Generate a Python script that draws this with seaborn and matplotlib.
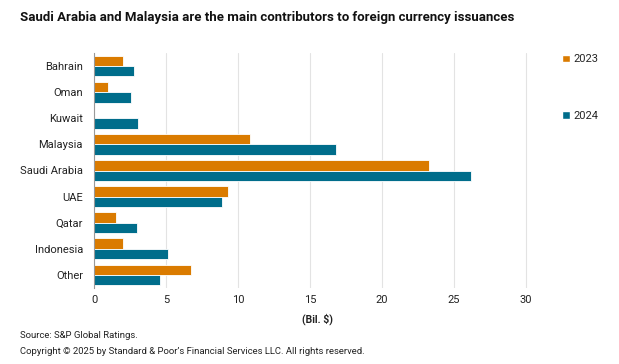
import matplotlib
matplotlib.use("Agg")
import matplotlib.pyplot as plt
import seaborn as sns
import pandas as pd
from matplotlib.patches import Patch

countries = ["Bahrain", "Oman", "Kuwait", "Malaysia", "Saudi Arabia", "UAE", "Qatar", "Indonesia", "Other"]
years = ["2023", "2024"]
values_2023 = [2.0, 1.0, 0.0, 10.85, 23.3, 9.3, 1.55, 2.05, 6.75]
values_2024 = [2.75, 2.55, 3.05, 16.85, 26.2, 8.9, 3.0, 5.15, 4.6]
colors = ["#DA7B00", "#006D8B"]

df = pd.DataFrame({
    "country": countries * 2,
    "year": ["2023"] * len(countries) + ["2024"] * len(countries),
    "value": values_2023 + values_2024,
})

sns.set_style("white")
plt.rcParams["font.family"] = ["Roboto", "DejaVu Sans"]

fig = plt.figure(figsize=(6.19, 3.64), dpi=100)
ax = fig.add_axes([94 / 619, 1 - 288 / 364, 446 / 619, 235 / 364])

sns.barplot(data=df, y="country", x="value", hue="year", order=countries,
            hue_order=years, palette=colors, saturation=1, width=0.8, orient="h",
            edgecolor="white", linewidth=0.6, ax=ax, legend=False)

ax.set_xlim(0, 31)
ax.set_xticks(range(0, 31, 5))
ax.grid(axis="x", color="#e3e3e3", linewidth=0.8)
ax.set_axisbelow(True)
for s in ["top", "right", "bottom"]:
    ax.spines[s].set_visible(False)
ax.spines["left"].set_color("#999999")
ax.spines["left"].set_linewidth(0.8)

ax.set_yticks(range(len(countries)))
ax.set_yticklabels(countries)
ax.set_yticks([i - 0.5 for i in range(len(countries) + 1)], minor=True)
ax.tick_params(axis="y", which="major", length=0, labelsize=8, pad=8, labelcolor="#222222")
ax.tick_params(axis="y", which="minor", length=3, color="#999999", width=0.8, direction="out")
ax.tick_params(axis="x", length=0, labelsize=8, pad=5, labelcolor="#222222")
ax.set_ylabel("")
ax.set_xlabel("(Bil. $)", fontsize=7.5, fontweight="bold", labelpad=6, color="#222222")

handles = [Patch(facecolor=c, label=y) for c, y in zip(colors, years)]
fig.legend(handles=handles, loc="upper left", bbox_to_anchor=(558 / 619, 1 - 50 / 364),
           frameon=False, fontsize=8, handlelength=0.7, handleheight=0.7,
           handletextpad=0.3, labelspacing=4.2, borderaxespad=0)

fig.text(20 / 619, 1 - 17 / 364, "Saudi Arabia and Malaysia are the main contributors to foreign currency issuances",
         fontsize=9.5, fontweight="bold", va="center", ha="left", color="#111111")
fig.text(20 / 619, 1 - 336 / 364, "Source: S&P Global Ratings.", fontsize=6.8, va="center", color="#222222")
fig.text(20 / 619, 1 - 352 / 364, "Copyright \u00a9 2025 by Standard & Poor\u2019s Financial Services LLC. All rights reserved.",
         fontsize=6.8, va="center", color="#222222")

fig.savefig("out.png", dpi=100)
